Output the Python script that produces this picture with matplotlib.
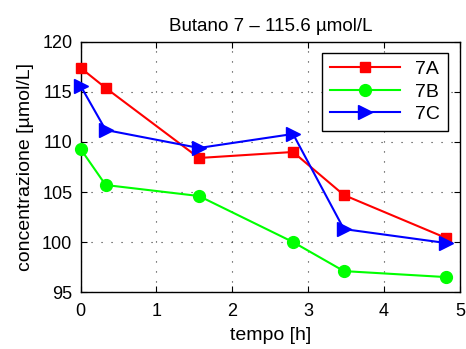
import matplotlib.pyplot as plt

tempo_A = [0, 0.33, 1.56, 2.80, 3.47, 4.82]
conc_A = [117.4, 115.4, 108.4, 109.0, 104.7, 100.4]
tempo_B = [0, 0.33, 1.56, 2.80, 3.47, 4.82]
conc_B = [109.3, 105.7, 104.6, 100.0, 97.1, 96.5]
tempo_C = [0, 0.33, 1.56, 2.80, 3.47, 4.82]
conc_C = [115.6, 111.2, 109.4, 110.8, 101.3, 99.9]

plt.rcParams['font.family'] = ['Liberation Sans', 'DejaVu Sans']

fig = plt.figure(figsize=(4.66, 3.49), dpi=100)
ax = fig.add_axes([0.173, 0.163, 0.814, 0.717])

ax.plot(tempo_A, conc_A, color='red', marker='s', markersize=7.5, linewidth=1.5, label='7A', clip_on=False, zorder=3)
ax.plot(tempo_B, conc_B, color='#00ff00', marker='o', markersize=8.5, linewidth=1.5, label='7B', clip_on=False, zorder=3)
ax.plot(tempo_C, conc_C, color='blue', marker='>', markersize=10, linewidth=1.5, label='7C', clip_on=False, zorder=3)

ax.set_xlim(0, 5)
ax.set_ylim(95, 120)
ax.set_xticks([0, 1, 2, 3, 4, 5])
ax.set_yticks([95, 100, 105, 110, 115, 120])
ax.grid(True, linestyle=(0, (1, 8)), color='#333333', linewidth=0.8)
ax.tick_params(direction='in', labelsize=13, top=True, right=True, length=4, pad=6)
ax.tick_params(axis='x', pad=8)
for s in ax.spines.values():
    s.set_linewidth(1.0)

ax.set_title('Butano 7 – 115.6 µmol/L', fontsize=13.5, pad=8)
ax.set_xlabel('tempo [h]', fontsize=14, labelpad=5)
ax.set_ylabel('concentrazione [µmol/L]', fontsize=14, labelpad=6)

leg = ax.legend(loc='upper right', fontsize=14, fancybox=False, edgecolor='black',
                framealpha=1, handlelength=3.6, borderpad=0.4, labelspacing=0.25,
                borderaxespad=0, bbox_to_anchor=(0.968, 0.956))
leg.get_frame().set_linewidth(1.0)

fig.savefig('out.png', dpi=100)
